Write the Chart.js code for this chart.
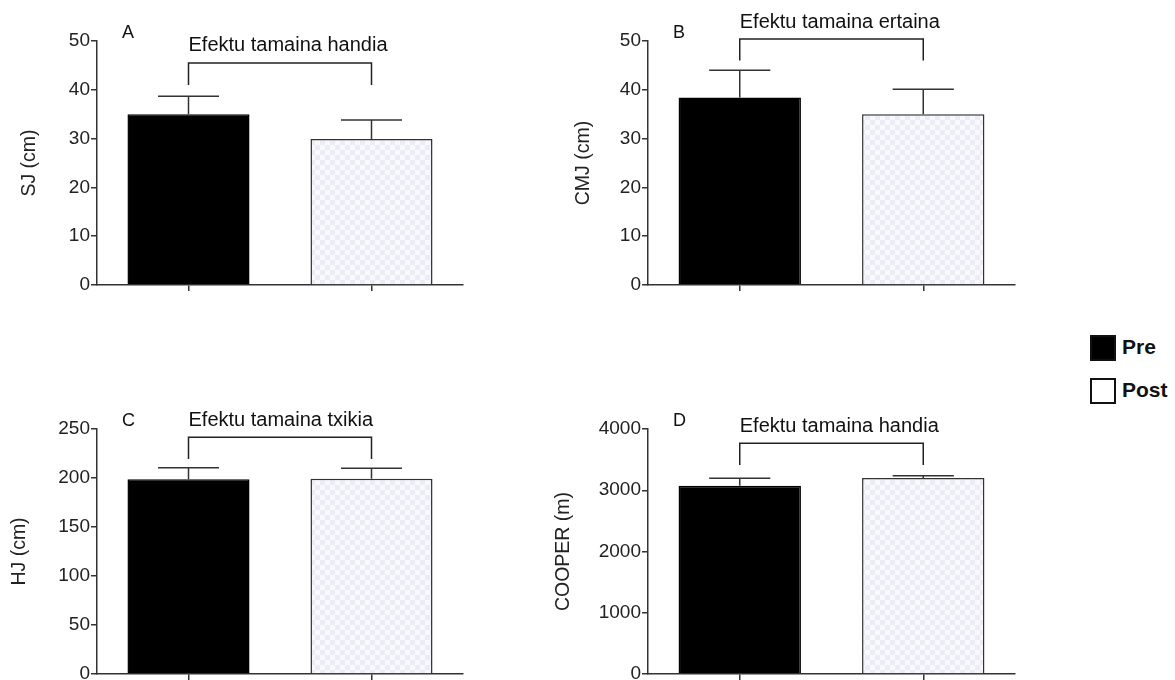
<!DOCTYPE html>
<html>
<head>
<meta charset="utf-8">
<script src="https://cdn.jsdelivr.net/npm/chart.js@4.4.1/dist/chart.umd.min.js"></script>
<style>
  html, body { margin: 0; padding: 0; background: #fff; overflow: hidden; }
  body { width: 1175px; height: 680px; position: relative; font-family: 'Liberation Sans', Arial, Helvetica, sans-serif; }
  canvas { position: absolute; }
  .legend-item { position: absolute; left: 1090px; height: 26px; }
  .legend-box { position: absolute; left: 0; top: 0; width: 26px; height: 26px; box-sizing: border-box; border: 2.5px solid #111; }
  .legend-text { position: absolute; left: 32px; top: -1px; font-size: 21px; font-weight: bold; color: #111; line-height: 26px; }
</style>
</head>
<body>
<canvas id="chartA" width="520" height="320" style="left:0px;top:0px"></canvas>
<canvas id="chartB" width="520" height="320" style="left:540px;top:0px"></canvas>
<canvas id="chartC" width="520" height="340" style="left:0px;top:360px"></canvas>
<canvas id="chartD" width="520" height="340" style="left:540px;top:360px"></canvas>

<div class="legend-item" style="top:335px">
  <div class="legend-box" style="background:#000"></div>
  <div class="legend-text">Pre</div>
</div>
<div class="legend-item" style="top:378px">
  <div class="legend-box" style="background:#fff"></div>
  <div class="legend-text">Post</div>
</div>

<script>
// groups (x categories)
const groups = ['Pre', 'Post'];

// panel letters, y titles and bracket texts
const panelLetters = ['A', 'B', 'C', 'D'];
const yTitles = ['SJ (cm)', 'CMJ (cm)', 'HJ (cm)', 'COOPER (m)'];
const effectTexts = ['Efektu tamaina handia', 'Efektu tamaina ertaina', 'Efektu tamaina txikia', 'Efektu tamaina handia'];

// means (Pre, Post)
const sjMeans = [35.0, 29.9];
const cmjMeans = [38.4, 35.0];
const hjMeans = [198.7, 199.3];
const cooperMeans = [3074, 3200];

// standard deviations (upper error bars)
const sjSd = [3.7, 3.9];
const cmjSd = [5.6, 5.1];
const hjSd = [11.8, 10.6];
const cooperSd = [121, 38];

// y axis ranges / steps
const yMax = [50, 50, 250, 4000];
const yStep = [10, 10, 50, 1000];

// bracket levels (top line, leg ends) in data units
const bracketTop = [45.5, 50.4, 241.5, 3767];
const bracketLeg = [41.0, 46.0, 219.4, 3412];

const FONT = "'Liberation Sans', Arial, Helvetica, sans-serif";
const AXIS = '#333';

function makePattern() {
    const c = document.createElement('canvas');
    c.width = 10; c.height = 10;
    const g = c.getContext('2d');
    g.fillStyle = '#f9f9fd';
    g.fillRect(0, 0, 10, 10);
    g.fillStyle = '#ececf6';
    g.fillRect(0, 0, 5, 5);
    g.fillRect(5, 5, 5, 5);
    return document.getElementById('chartA').getContext('2d').createPattern(c, 'repeat');
}
const postFill = makePattern();

// draws error bars, bracket, annotation and panel letter
const extrasPlugin = {
    id: 'extras',
    afterDatasetsDraw(chart, args, opts) {
        const ctx = chart.ctx;
        const y = chart.scales.y;
        const bars = chart.getDatasetMeta(0).data;
        ctx.save();
        ctx.strokeStyle = AXIS;
        ctx.lineWidth = 1.5;
        // error bars
        bars.forEach((bar, i) => {
            const top = y.getPixelForValue(opts.means[i] + opts.sd[i]);
            const base = y.getPixelForValue(opts.means[i]);
            const half = bar.width / 4;
            ctx.beginPath();
            ctx.moveTo(bar.x, base);
            ctx.lineTo(bar.x, top);
            ctx.moveTo(bar.x - half, top);
            ctx.lineTo(bar.x + half, top);
            ctx.stroke();
        });
        // bracket
        const by = y.getPixelForValue(opts.bracketTop);
        const ly = y.getPixelForValue(opts.bracketLeg);
        ctx.strokeStyle = '#222';
        ctx.beginPath();
        ctx.moveTo(bars[0].x, ly);
        ctx.lineTo(bars[0].x, by);
        ctx.lineTo(bars[1].x, by);
        ctx.lineTo(bars[1].x, ly);
        ctx.stroke();
        // annotation text
        ctx.fillStyle = '#111';
        ctx.font = '20px ' + FONT;
        ctx.textAlign = 'left';
        ctx.textBaseline = 'alphabetic';
        ctx.fillText(opts.text, bars[0].x, by - 11.5);
        // panel letter
        ctx.font = '18px ' + FONT;
        ctx.fillText(opts.letter, chart.chartArea.left + 25, chart.chartArea.top - 3);
        ctx.restore();
    }
};

function buildChart(id, idx, means, sd, yWidth, titlePad, pad) {
    return new Chart(document.getElementById(id), {
        type: 'bar',
        data: {
            labels: groups,
            datasets: [{
                data: means,
                backgroundColor: ['#000', postFill],
                borderColor: ['#000', AXIS],
                borderWidth: 1.5,
                barPercentage: 0.667,
                categoryPercentage: 1
            }]
        },
        options: {
            responsive: false,
            animation: false,
            layout: { padding: pad },
            plugins: {
                legend: { display: false },
                tooltip: { enabled: false },
                extras: {
                    means: means, sd: sd,
                    bracketTop: bracketTop[idx], bracketLeg: bracketLeg[idx],
                    text: effectTexts[idx], letter: panelLetters[idx]
                }
            },
            scales: {
                x: {
                    offset: true,
                    grid: { offset: false, drawOnChartArea: false, drawTicks: true, tickLength: 6, color: AXIS, lineWidth: 1.5 },
                    border: { display: true, color: AXIS, width: 1.5 },
                    ticks: { display: false },
                    afterFit: s => { s.height = 10; }
                },
                y: {
                    min: 0,
                    max: yMax[idx],
                    ticks: {
                        stepSize: yStep[idx], color: '#222', padding: 1,
                        font: { family: FONT, size: 19 },
                        callback: v => String(v)
                    },
                    grid: { drawOnChartArea: false, drawTicks: true, tickLength: 6, color: AXIS, lineWidth: 1.5 },
                    border: { display: true, color: AXIS, width: 1.5 },
                    title: { display: true, text: yTitles[idx], color: '#222', padding: { top: titlePad, bottom: 0 }, font: { family: FONT, size: 19.5 } },
                    afterFit: s => { s.width = yWidth; }
                }
            }
        },
        plugins: [extrasPlugin]
    });
}

buildChart('chartA', 0, sjMeans, sjSd, 97, 18.3, { left: 0, top: 41, right: 57, bottom: 25 });
buildChart('chartB', 1, cmjMeans, cmjSd, 108, 32.3, { left: 0, top: 41, right: 45, bottom: 25 });
buildChart('chartC', 2, hjMeans, hjSd, 97, 8.3, { left: 0, top: 69, right: 57, bottom: 16 });
buildChart('chartD', 3, cooperMeans, cooperSd, 108, 12.3, { left: 0, top: 69, right: 45, bottom: 16 });
</script>
</body>
</html>
